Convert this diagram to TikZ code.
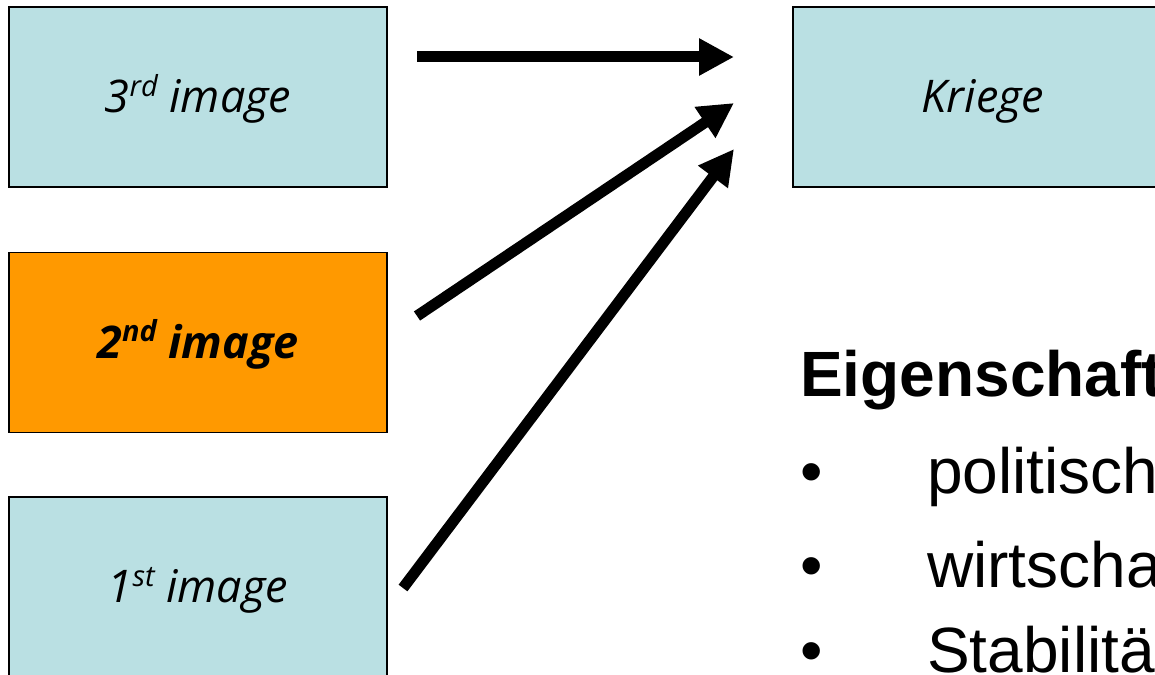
\documentclass[tikz,border=0pt]{standalone}
\usepackage{fontspec}
\setmainfont{Liberation Sans}
\newfontfamily\boxfont{Open Sans}
\usetikzlibrary{arrows.meta}
\definecolor{boxblue}{HTML}{BAE0E3}
\definecolor{boxorange}{HTML}{FF9900}
\newcommand{\supx}[1]{\raisebox{0.36em}{\fontsize{29}{30}\selectfont #1}}
\tikzset{
  imgbox/.style={draw=black, line width=1.5pt, fill=boxblue, minimum width=378pt, minimum height=180pt, inner sep=0pt, text height=31pt, text depth=0pt, font=\boxfont\itshape\fontsize{45}{50}\selectfont},
  bigarrow/.style={line width=11pt, -{Triangle[length=35pt,width=35pt]}},
  listtext/.style={anchor=base west, inner sep=0pt, font=\fontsize{64}{70}\selectfont}
}
\begin{document}
\begin{tikzpicture}[x=1pt,y=-1pt]
\useasboundingbox (0,0) rectangle (1155,674);
\begin{scope}
\clip (0,0) rectangle (1155,674);
\node[imgbox] (third) at (198,97) {3\supx{rd} image};
\node[imgbox, fill=boxorange, font=\boxfont\bfseries\itshape\fontsize{45}{50}\selectfont] (second) at (198,342.5) {2\supx{nd} image};
\node[imgbox] (first) at (198,587) {1\supx{st} image};
\node[imgbox, minimum width=380pt] (kriege) at (983,97) {Kriege};

\coordinate (s3) at (417,57);
\coordinate (t3) at (734,57);
\coordinate (s2) at (417,316);
\coordinate (t2) at (734,103);
\coordinate (s1) at (403,588);
\coordinate (t1) at (734,149);
\draw[bigarrow] (s3) -- (t3);
\draw[bigarrow] (s2) -- (t2);
\draw[bigarrow] (s1) -- (t1);

\node[listtext, font=\bfseries\fontsize{64}{70}\selectfont] (head) at (800,396) {Eigenschaft};
\node[listtext] (b1) at (800,493) {\textbullet};
\node[listtext] (l1) at (927,493) {politisch};
\node[listtext] (b2) at (800,587) {\textbullet};
\node[listtext] (l2) at (927,587) {wirtscha};
\node[listtext] (b3) at (800,672) {\textbullet};
\node[listtext] (l3) at (927,672) {Stabilitä};
\end{scope}
\end{tikzpicture}
\end{document}
